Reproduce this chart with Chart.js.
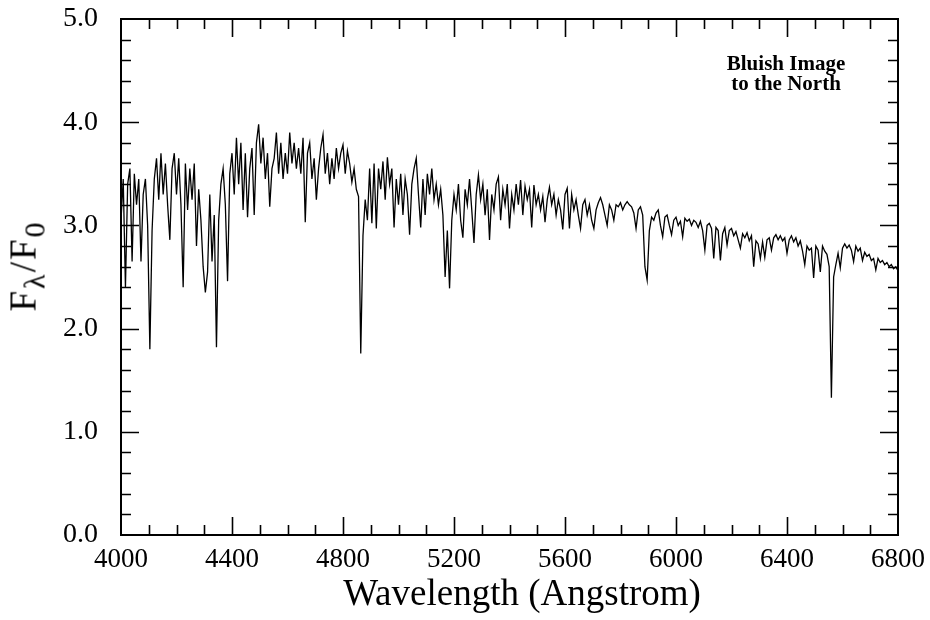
<!DOCTYPE html>
<html>
<head>
<meta charset="utf-8">
<script src="https://cdn.jsdelivr.net/npm/chart.js@4.4.0/dist/chart.umd.min.js"></script>
<style>
  html, body { margin: 0; padding: 0; background: #fff; }
  #wrap { position: relative; width: 930px; height: 620px; }
  #ytitle {
    position: absolute; left: 23px; top: 266px;
    transform: translate(-50%, -50%) rotate(-90deg);
    font: 37px "Liberation Serif", serif; white-space: nowrap; color: #000;
    letter-spacing: 2px;
  }
  #ytitle sub { font-size: 30px; vertical-align: baseline; position: relative; top: 0.3em; }
  #xtitle {
    position: absolute; left: 522px; top: 574px; transform: translateX(-50%);
    font: 37px/37px "Liberation Serif", serif; white-space: nowrap; color: #000;
  }
  #note {
    position: absolute; left: 786px; top: 53px; transform: translateX(-50%);
    font: bold 21px/20px "Liberation Serif", serif; text-align: center; color: #000;
    white-space: nowrap;
  }
</style>
</head>
<body>
<div id="wrap">
  <canvas id="spec" width="930" height="620"></canvas>
  <div id="ytitle">F<sub>λ</sub>/F<sub>0</sub></div>
  <div id="xtitle">Wavelength (Angstrom)</div>
  <div id="note">Bluish Image<br>to the North</div>
</div>
<script>
// wavelength grid (Angstrom), 8 A steps
const wavelength = [
  4000,4008,4016,4024,4032,4040,4048,4056,4064,4072,4080,4088,4096,4104,4112,4120,4128,4136,4144,4152,
  4160,4168,4176,4184,4192,4200,4208,4216,4224,4232,4240,4248,4256,4264,4272,4280,4288,4296,4304,4312,
  4320,4328,4336,4344,4352,4360,4368,4376,4384,4392,4400,4408,4416,4424,4432,4440,4448,4456,4464,4472,
  4480,4488,4496,4504,4512,4520,4528,4536,4544,4552,4560,4568,4576,4584,4592,4600,4608,4616,4624,4632,
  4640,4648,4656,4664,4672,4680,4688,4696,4704,4712,4720,4728,4736,4744,4752,4760,4768,4776,4784,4792,
  4800,4808,4816,4824,4832,4840,4848,4856,4864,4872,4880,4888,4896,4904,4912,4920,4928,4936,4944,4952,
  4960,4968,4976,4984,4992,5000,5008,5016,5024,5032,5040,5048,5056,5064,5072,5080,5088,5096,5104,5112,
  5120,5128,5136,5144,5152,5160,5168,5176,5184,5192,5200,5208,5216,5224,5232,5240,5248,5256,5264,5272,
  5280,5288,5296,5304,5312,5320,5328,5336,5344,5352,5360,5368,5376,5384,5392,5400,5408,5416,5424,5432,
  5440,5448,5456,5464,5472,5480,5488,5496,5504,5512,5520,5528,5536,5544,5552,5560,5568,5576,5584,5592,
  5600,5608,5616,5624,5632,5640,5648,5656,5664,5672,5680,5688,5696,5704,5712,5720,5728,5736,5744,5752,
  5760,5768,5776,5784,5792,5800,5808,5816,5824,5832,5840,5848,5856,5864,5872,5880,5888,5896,5904,5912,
  5920,5928,5936,5944,5952,5960,5968,5976,5984,5992,6000,6008,6016,6024,6032,6040,6048,6056,6064,6072,
  6080,6088,6096,6104,6112,6120,6128,6136,6144,6152,6160,6168,6176,6184,6192,6200,6208,6216,6224,6232,
  6240,6248,6256,6264,6272,6280,6288,6296,6304,6312,6320,6328,6336,6344,6352,6360,6368,6376,6384,6392,
  6400,6408,6416,6424,6432,6440,6448,6456,6464,6472,6480,6488,6496,6504,6512,6520,6528,6536,6544,6552,
  6560,6568,6576,6584,6592,6600,6608,6616,6624,6632,6640,6648,6656,6664,6672,6680,6688,6696,6704,6712,
  6720,6728,6736,6744,6752,6760,6768,6776,6784,6792,6800
]

// F_lambda / F_0
const flux = [
  3.05,3.45,2.40,3.40,3.55,2.65,3.50,3.20,3.45,2.65,3.30,3.45,3.00,1.80,2.95,3.45,3.65,3.25,3.70,3.30,
  3.60,3.20,2.86,3.55,3.70,3.30,3.65,3.20,2.40,3.60,3.15,3.55,3.25,3.60,2.80,3.35,3.05,2.60,2.35,2.55,
  3.30,2.65,3.10,1.82,3.05,3.40,3.55,3.20,2.46,3.50,3.70,3.30,3.85,3.40,3.80,3.15,3.70,3.08,3.55,3.75,
  3.10,3.80,3.98,3.60,3.85,3.45,3.70,3.18,3.55,3.65,3.90,3.50,3.80,3.45,3.70,3.50,3.90,3.60,3.80,3.55,
  3.75,3.50,3.85,3.03,3.70,3.80,3.45,3.65,3.25,3.55,3.75,3.88,3.50,3.70,3.40,3.65,3.45,3.75,3.55,3.70,
  3.78,3.50,3.72,3.60,3.42,3.55,3.35,3.28,1.76,2.90,3.25,3.05,3.55,3.02,3.60,2.97,3.55,3.35,3.62,3.25,
  3.66,3.40,3.55,2.98,3.45,3.20,3.50,3.10,3.45,3.30,2.91,3.40,3.55,3.65,3.30,2.98,3.45,3.10,3.50,3.30,
  3.55,3.25,3.40,3.20,3.35,3.10,2.50,2.95,2.39,3.05,3.30,3.15,3.40,3.05,2.88,3.35,3.20,3.45,3.15,2.83,
  3.30,3.49,3.25,3.40,3.10,3.35,2.86,3.30,3.15,3.40,3.47,3.05,3.35,3.20,3.40,2.97,3.30,3.15,3.40,3.20,
  3.44,3.10,3.38,3.25,3.35,2.98,3.39,3.20,3.30,3.15,3.28,3.03,3.25,3.37,3.20,3.30,3.10,3.25,3.15,2.96,
  3.30,3.36,2.97,3.30,3.15,3.25,3.10,2.97,3.20,3.25,3.10,3.20,3.05,2.97,3.15,3.22,3.27,3.20,3.10,3.00,
  3.20,3.15,3.05,3.20,3.18,3.22,3.15,3.20,3.23,3.20,3.18,3.12,2.97,3.15,3.18,3.10,2.60,2.47,2.95,3.08,
  3.05,3.12,3.15,3.00,2.89,3.08,3.10,3.00,2.91,3.05,3.08,3.00,3.04,2.89,3.07,3.04,3.06,3.00,3.05,3.03,
  2.98,3.04,2.95,2.76,3.00,3.02,2.97,2.68,2.98,2.95,2.66,2.92,2.98,2.81,2.95,2.97,2.90,2.94,2.86,2.78,
  2.92,2.88,2.93,2.85,2.90,2.60,2.85,2.82,2.68,2.84,2.69,2.86,2.88,2.76,2.88,2.91,2.86,2.90,2.85,2.88,
  2.73,2.86,2.90,2.84,2.88,2.80,2.85,2.75,2.62,2.80,2.76,2.78,2.49,2.80,2.76,2.55,2.80,2.75,2.72,2.60,
  1.33,2.50,2.62,2.73,2.59,2.78,2.82,2.78,2.81,2.76,2.65,2.80,2.75,2.78,2.66,2.74,2.70,2.72,2.66,2.68,
  2.57,2.68,2.64,2.66,2.62,2.64,2.60,2.62,2.58,2.60,2.56
]

const xRange = [4000, 6800]
const yRange = [0, 5]
const xMajor = 400, xMinor = 100
const yMajor = 1, yMinor = 0.2

const serif = '"Liberation Serif", "Times New Roman", serif'

// frame + inward ticks on all four sides, placed with the chart's own scales
const frameTicks = {
  id: 'frameTicks',
  afterDraw(chart) {
    const { ctx, chartArea: a, scales: { x, y } } = chart
    ctx.save()
    ctx.strokeStyle = '#000'
    ctx.lineWidth = 2
    ctx.strokeRect(a.left, a.top, a.right - a.left, a.bottom - a.top)
    ctx.lineWidth = 1.6
    ctx.beginPath()
    for (let v = xRange[0] + xMinor; v < xRange[1]; v += xMinor) {
      const px = Math.round(x.getPixelForValue(v)) + 0.5
      const len = v % xMajor === 0 ? 18 : 10
      ctx.moveTo(px, a.bottom); ctx.lineTo(px, a.bottom - len)
      ctx.moveTo(px, a.top); ctx.lineTo(px, a.top + len)
    }
    for (let i = 1; i < Math.round((yRange[1] - yRange[0]) / yMinor); i++) {
      const v = yRange[0] + i * yMinor
      const py = Math.round(y.getPixelForValue(v)) + 0.5
      const len = i % 5 === 0 ? 18 : 10
      ctx.moveTo(a.left, py); ctx.lineTo(a.left + len, py)
      ctx.moveTo(a.right, py); ctx.lineTo(a.right - len, py)
    }
    ctx.stroke()
    ctx.restore()
  }
}

new Chart(document.getElementById('spec'), {
  type: 'line',
  data: {
    datasets: [{
      data: wavelength.map((w, i) => ({ x: w, y: flux[i] })),
      borderColor: '#000',
      borderWidth: 1.3,
      pointRadius: 0,
      tension: 0,
      fill: false
    }]
  },
  options: {
    responsive: false,
    animation: false,
    layout: { padding: { top: 19, right: 32, left: 0, bottom: 0 } },
    plugins: { legend: { display: false }, tooltip: { enabled: false } },
    scales: {
      x: {
        type: 'linear',
        min: xRange[0], max: xRange[1],
        grid: { display: false },
        border: { display: false },
        ticks: {
          stepSize: xMajor, autoSkip: false, maxRotation: 0, padding: 1,
          color: '#000', font: { family: serif, size: 27 },
          callback: v => String(v)
        },
        afterFit(s) { s.height = 85; s.paddingLeft = 0; s.paddingRight = 0 }
      },
      y: {
        min: yRange[0], max: yRange[1],
        grid: { display: false },
        border: { display: false },
        ticks: {
          stepSize: yMajor, padding: 15,
          color: '#000', font: { family: serif, size: 28 },
          callback: v => v.toFixed(1)
        },
        afterFit(s) { s.width = 121; s.paddingTop = 0; s.paddingBottom = 0 }
      }
    }
  },
  plugins: [frameTicks]
})
</script>
</body>
</html>
